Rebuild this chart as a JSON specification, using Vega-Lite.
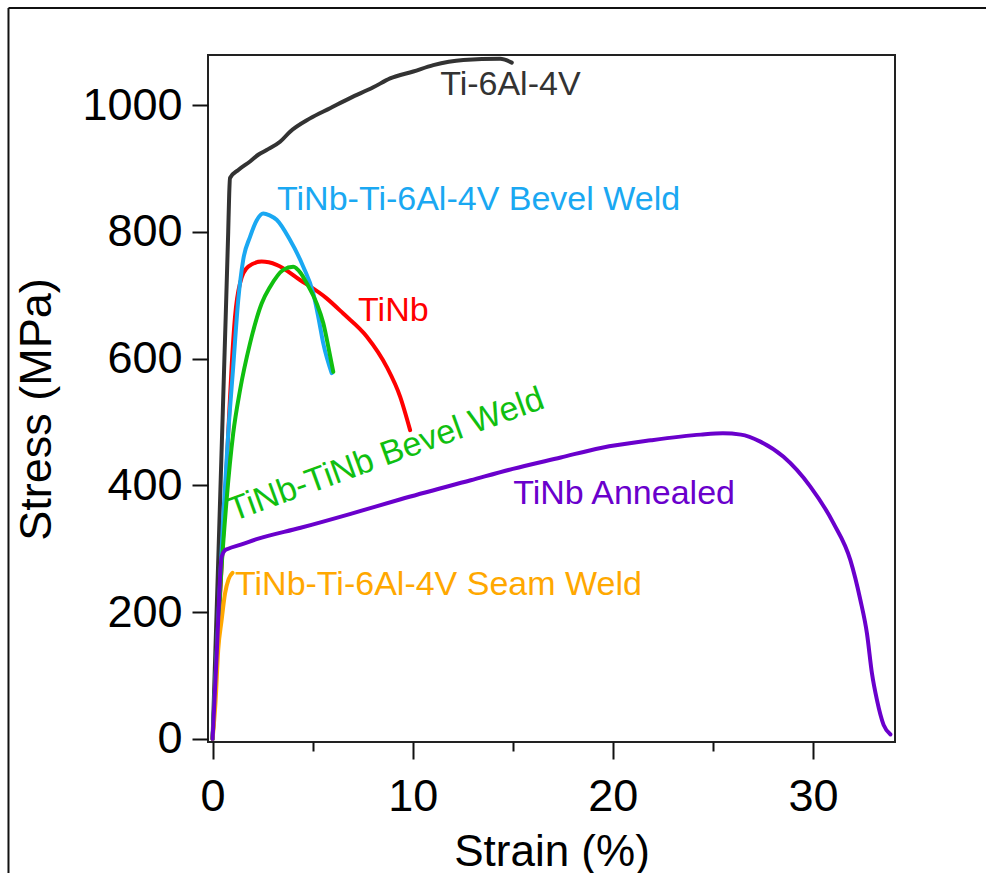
{
  "$schema": "https://vega.github.io/schema/vega-lite/v6.json",
  "width": 687,
  "height": 687,
  "autosize": {"type": "none"},
  "padding": {"left": 208, "top": 55, "right": 91, "bottom": 131},
  "background": "white",
  "config": {
    "view": {"stroke": "#222222", "strokeWidth": 2},
    "font": "Liberation Sans"
  },
  "datasets": {
    "curves": [
      {"series": "Ti-6Al-4V", "strain": 0, "stress": 0},
      {"series": "Ti-6Al-4V", "strain": 0.3, "stress": 300},
      {"series": "Ti-6Al-4V", "strain": 0.6, "stress": 610},
      {"series": "Ti-6Al-4V", "strain": 0.78, "stress": 800},
      {"series": "Ti-6Al-4V", "strain": 0.83, "stress": 860},
      {"series": "Ti-6Al-4V", "strain": 0.87, "stress": 885},
      {"series": "Ti-6Al-4V", "strain": 1.3, "stress": 898},
      {"series": "Ti-6Al-4V", "strain": 1.87, "stress": 911},
      {"series": "Ti-6Al-4V", "strain": 2.3, "stress": 922},
      {"series": "Ti-6Al-4V", "strain": 2.7, "stress": 929},
      {"series": "Ti-6Al-4V", "strain": 3.37, "stress": 942},
      {"series": "Ti-6Al-4V", "strain": 3.87, "stress": 958},
      {"series": "Ti-6Al-4V", "strain": 4.87, "stress": 979},
      {"series": "Ti-6Al-4V", "strain": 5.87, "stress": 995},
      {"series": "Ti-6Al-4V", "strain": 6.87, "stress": 1011},
      {"series": "Ti-6Al-4V", "strain": 8.03, "stress": 1028},
      {"series": "Ti-6Al-4V", "strain": 8.87, "stress": 1042},
      {"series": "Ti-6Al-4V", "strain": 10.03, "stress": 1053},
      {"series": "Ti-6Al-4V", "strain": 11.03, "stress": 1063},
      {"series": "Ti-6Al-4V", "strain": 12.53, "stress": 1071},
      {"series": "Ti-6Al-4V", "strain": 14.37, "stress": 1073},
      {"series": "Ti-6Al-4V", "strain": 14.95, "stress": 1067},

      {"series": "TiNb", "strain": 0, "stress": 0},
      {"series": "TiNb", "strain": 0.33, "stress": 200},
      {"series": "TiNb", "strain": 0.62, "stress": 377},
      {"series": "TiNb", "strain": 0.78, "stress": 482},
      {"series": "TiNb", "strain": 0.95, "stress": 587},
      {"series": "TiNb", "strain": 1.12, "stress": 666},
      {"series": "TiNb", "strain": 1.37, "stress": 719},
      {"series": "TiNb", "strain": 1.78, "stress": 745},
      {"series": "TiNb", "strain": 2.45, "stress": 753},
      {"series": "TiNb", "strain": 3.2, "stress": 748},
      {"series": "TiNb", "strain": 4.37, "stress": 724},
      {"series": "TiNb", "strain": 5.7, "stress": 695},
      {"series": "TiNb", "strain": 6.53, "stress": 671},
      {"series": "TiNb", "strain": 7.7, "stress": 635},
      {"series": "TiNb", "strain": 8.7, "stress": 587},
      {"series": "TiNb", "strain": 9.37, "stress": 540},
      {"series": "TiNb", "strain": 9.87, "stress": 487},

      {"series": "TiNb-Ti-6Al-4V Bevel Weld", "strain": 0, "stress": 0},
      {"series": "TiNb-Ti-6Al-4V Bevel Weld", "strain": 0.53, "stress": 350},
      {"series": "TiNb-Ti-6Al-4V Bevel Weld", "strain": 0.78, "stress": 482},
      {"series": "TiNb-Ti-6Al-4V Bevel Weld", "strain": 1.03, "stress": 587},
      {"series": "TiNb-Ti-6Al-4V Bevel Weld", "strain": 1.28, "stress": 692},
      {"series": "TiNb-Ti-6Al-4V Bevel Weld", "strain": 1.53, "stress": 756},
      {"series": "TiNb-Ti-6Al-4V Bevel Weld", "strain": 1.87, "stress": 792},
      {"series": "TiNb-Ti-6Al-4V Bevel Weld", "strain": 2.2, "stress": 818},
      {"series": "TiNb-Ti-6Al-4V Bevel Weld", "strain": 2.53, "stress": 829},
      {"series": "TiNb-Ti-6Al-4V Bevel Weld", "strain": 2.85, "stress": 826},
      {"series": "TiNb-Ti-6Al-4V Bevel Weld", "strain": 3.2, "stress": 819},
      {"series": "TiNb-Ti-6Al-4V Bevel Weld", "strain": 3.87, "stress": 787},
      {"series": "TiNb-Ti-6Al-4V Bevel Weld", "strain": 4.53, "stress": 745},
      {"series": "TiNb-Ti-6Al-4V Bevel Weld", "strain": 5.03, "stress": 703},
      {"series": "TiNb-Ti-6Al-4V Bevel Weld", "strain": 5.28, "stress": 666},
      {"series": "TiNb-Ti-6Al-4V Bevel Weld", "strain": 5.53, "stress": 624},
      {"series": "TiNb-Ti-6Al-4V Bevel Weld", "strain": 5.95, "stress": 577},

      {"series": "TiNb-TiNb Bevel Weld", "strain": 0, "stress": 0},
      {"series": "TiNb-TiNb Bevel Weld", "strain": 0.45, "stress": 272},
      {"series": "TiNb-TiNb Bevel Weld", "strain": 0.7, "stress": 377},
      {"series": "TiNb-TiNb Bevel Weld", "strain": 1.03, "stress": 482},
      {"series": "TiNb-TiNb Bevel Weld", "strain": 1.37, "stress": 550},
      {"series": "TiNb-TiNb Bevel Weld", "strain": 1.87, "stress": 624},
      {"series": "TiNb-TiNb Bevel Weld", "strain": 2.45, "stress": 687},
      {"series": "TiNb-TiNb Bevel Weld", "strain": 2.87, "stress": 713},
      {"series": "TiNb-TiNb Bevel Weld", "strain": 3.53, "stress": 740},
      {"series": "TiNb-TiNb Bevel Weld", "strain": 4.03, "stress": 745},
      {"series": "TiNb-TiNb Bevel Weld", "strain": 4.4, "stress": 735},
      {"series": "TiNb-TiNb Bevel Weld", "strain": 4.7, "stress": 719},
      {"series": "TiNb-TiNb Bevel Weld", "strain": 5.2, "stress": 687},
      {"series": "TiNb-TiNb Bevel Weld", "strain": 5.53, "stress": 656},
      {"series": "TiNb-TiNb Bevel Weld", "strain": 5.78, "stress": 619},
      {"series": "TiNb-TiNb Bevel Weld", "strain": 6.03, "stress": 579},

      {"series": "TiNb-Ti-6Al-4V Seam Weld", "strain": 0, "stress": 0},
      {"series": "TiNb-Ti-6Al-4V Seam Weld", "strain": 0.15, "stress": 60},
      {"series": "TiNb-Ti-6Al-4V Seam Weld", "strain": 0.28, "stress": 140},
      {"series": "TiNb-Ti-6Al-4V Seam Weld", "strain": 0.45, "stress": 187},
      {"series": "TiNb-Ti-6Al-4V Seam Weld", "strain": 0.62, "stress": 229},
      {"series": "TiNb-Ti-6Al-4V Seam Weld", "strain": 0.8, "stress": 252},
      {"series": "TiNb-Ti-6Al-4V Seam Weld", "strain": 1.0, "stress": 262},

      {"series": "TiNb Annealed", "strain": 0, "stress": 0},
      {"series": "TiNb Annealed", "strain": 0.2, "stress": 130},
      {"series": "TiNb Annealed", "strain": 0.45, "stress": 287},
      {"series": "TiNb Annealed", "strain": 0.6, "stress": 297},
      {"series": "TiNb Annealed", "strain": 0.78, "stress": 300},
      {"series": "TiNb Annealed", "strain": 1.37, "stress": 306},
      {"series": "TiNb Annealed", "strain": 2.2, "stress": 315},
      {"series": "TiNb Annealed", "strain": 4.4, "stress": 333},
      {"series": "TiNb Annealed", "strain": 6.9, "stress": 355},
      {"series": "TiNb Annealed", "strain": 9.4, "stress": 378},
      {"series": "TiNb Annealed", "strain": 12.9, "stress": 408},
      {"series": "TiNb Annealed", "strain": 15, "stress": 426},
      {"series": "TiNb Annealed", "strain": 17.4, "stress": 444},
      {"series": "TiNb Annealed", "strain": 19.4, "stress": 459},
      {"series": "TiNb Annealed", "strain": 21.9, "stress": 471},
      {"series": "TiNb Annealed", "strain": 24.4, "stress": 480},
      {"series": "TiNb Annealed", "strain": 25.5, "stress": 482},
      {"series": "TiNb Annealed", "strain": 26.4, "stress": 480},
      {"series": "TiNb Annealed", "strain": 27.37, "stress": 469},
      {"series": "TiNb Annealed", "strain": 28.53, "stress": 445},
      {"series": "TiNb Annealed", "strain": 29.87, "stress": 398},
      {"series": "TiNb Annealed", "strain": 31.03, "stress": 340},
      {"series": "TiNb Annealed", "strain": 31.87, "stress": 282},
      {"series": "TiNb Annealed", "strain": 32.37, "stress": 219},
      {"series": "TiNb Annealed", "strain": 32.7, "stress": 166},
      {"series": "TiNb Annealed", "strain": 32.95, "stress": 103},
      {"series": "TiNb Annealed", "strain": 33.2, "stress": 61},
      {"series": "TiNb Annealed", "strain": 33.53, "stress": 22},
      {"series": "TiNb Annealed", "strain": 33.87, "stress": 7}
    ],
    "labels": [
      {"series": "Ti-6Al-4V", "label": "Ti-6Al-4V", "strain": 11.37, "stress": 1032},
      {"series": "TiNb-Ti-6Al-4V Bevel Weld", "label": "TiNb-Ti-6Al-4V Bevel Weld", "strain": 3.22, "stress": 850},
      {"series": "TiNb", "label": "TiNb", "strain": 7.27, "stress": 675},
      {"series": "TiNb Annealed", "label": "TiNb Annealed", "strain": 15.02, "stress": 386},
      {"series": "TiNb-Ti-6Al-4V Seam Weld", "label": "TiNb-Ti-6Al-4V Seam Weld", "strain": 1.12, "stress": 243}
    ],
    "rotated": [
      {"series": "TiNb-TiNb Bevel Weld", "label": "TiNb-TiNb Bevel Weld", "strain": 8.85, "stress": 433}
    ],
    "frame": [
      {"strain": -10.2, "strain2": -10.2, "stress": 1153, "stress2": -400},
      {"strain": -10.2, "strain2": 70, "stress": 1153, "stress2": 1153}
    ]
  },
  "layer": [
    {
      "data": {"name": "frame"},
      "mark": {"type": "rule", "stroke": "#111111", "strokeWidth": 2, "clip": false},
      "encoding": {
        "x": {"field": "strain", "type": "quantitative"},
        "x2": {"field": "strain2"},
        "y": {"field": "stress", "type": "quantitative"},
        "y2": {"field": "stress2"}
      }
    },
    {
      "data": {"name": "curves"},
      "mark": {"type": "line", "strokeWidth": 4, "strokeJoin": "round", "strokeCap": "round", "interpolate": "monotone"},
      "encoding": {
        "x": {
          "field": "strain", "type": "quantitative",
          "scale": {"domain": [-0.23, 34.1], "nice": false, "zero": false},
          "axis": {
            "title": "Strain (%)",
            "values": [0, 5, 10, 15, 20, 25, 30],
            "domain": false,
            "grid": false,
            "tickColor": "#111111",
            "tickWidth": 2,
            "tickSize": {"condition": {"test": "datum.value % 10 === 0", "value": 17}, "value": 9},
            "labelExpr": "datum.value % 10 === 0 ? datum.label : ''",
            "labelFontSize": 45,
            "labelColor": "#000000",
            "labelPadding": 15,
            "labelFlush": false,
            "titleFontSize": 44,
            "titleFontWeight": "normal",
            "titleColor": "#000000",
            "titleBaseline": "alphabetic",
            "titleX": 343.5,
            "titleY": 123
          }
        },
        "y": {
          "field": "stress", "type": "quantitative",
          "scale": {"domain": [-5, 1079], "nice": false, "zero": false},
          "axis": {
            "title": "Stress (MPa)",
            "values": [0, 200, 400, 600, 800, 1000],
            "format": "d",
            "domain": false,
            "grid": false,
            "tickColor": "#111111",
            "tickWidth": 2,
            "tickSize": 16,
            "labelFontSize": 45,
            "labelColor": "#000000",
            "labelPadding": 10,
            "labelFlush": false,
            "titleFontSize": 45,
            "titleFontWeight": "normal",
            "titleColor": "#000000",
            "titleAngle": -90,
            "titleAlign": "center",
            "titleBaseline": "alphabetic",
            "titleX": -158,
            "titleY": 354
          }
        },
        "color": {
          "field": "series", "type": "nominal", "legend": null,
          "scale": {
            "domain": ["Ti-6Al-4V", "TiNb", "TiNb-Ti-6Al-4V Bevel Weld", "TiNb-TiNb Bevel Weld", "TiNb-Ti-6Al-4V Seam Weld", "TiNb Annealed"],
            "range": ["#333333", "#ff0000", "#1aa8f2", "#10bf10", "#ffa800", "#6a00cc"]
          }
        }
      }
    },
    {
      "data": {"name": "labels"},
      "mark": {"type": "text", "fontSize": 34, "align": "left", "baseline": "middle"},
      "encoding": {
        "x": {"field": "strain", "type": "quantitative"},
        "y": {"field": "stress", "type": "quantitative"},
        "text": {"field": "label"},
        "color": {"field": "series", "type": "nominal", "legend": null}
      }
    },
    {
      "data": {"name": "rotated"},
      "mark": {"type": "text", "fontSize": 34, "align": "center", "baseline": "alphabetic", "angle": -20},
      "encoding": {
        "x": {"field": "strain", "type": "quantitative"},
        "y": {"field": "stress", "type": "quantitative"},
        "text": {"field": "label"},
        "color": {"field": "series", "type": "nominal", "legend": null}
      }
    }
  ]
}
